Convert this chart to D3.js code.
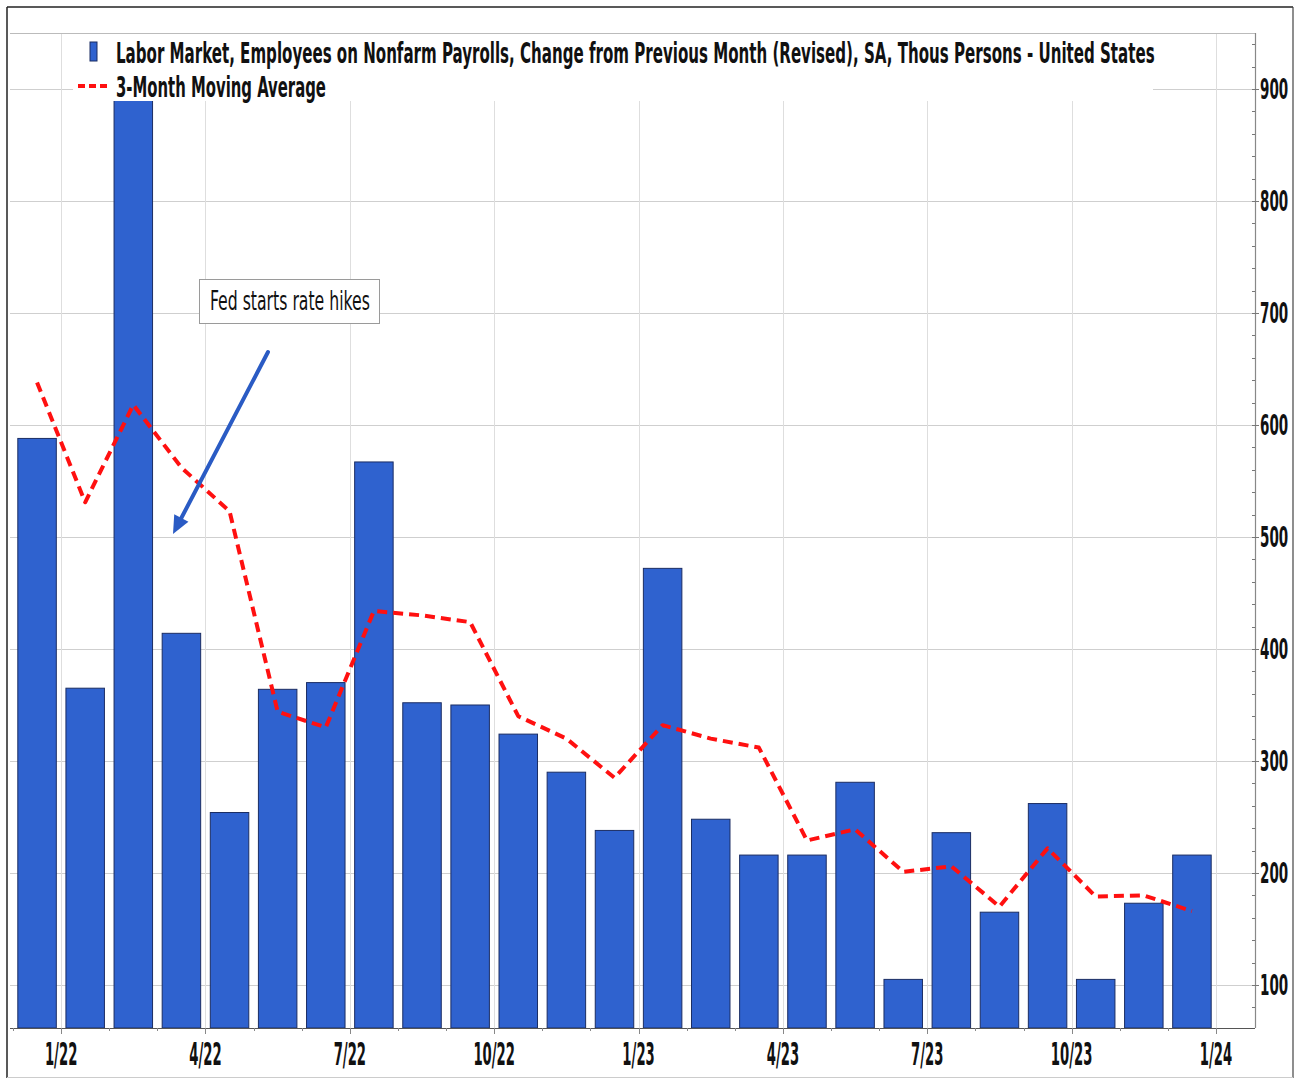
<!DOCTYPE html>
<html>
<head>
<meta charset="utf-8">
<script src="https://cdn.jsdelivr.net/npm/d3@7"></script>
<style>
  html, body { margin: 0; padding: 0; background: #fff; }
  svg { display: block; }
  .lbl { font-family: "Liberation Sans Narrow", "Arial Narrow", "DejaVu Sans Condensed", "Liberation Sans", sans-serif; font-weight: bold; fill: #111; }
</style>
</head>
<body>
<svg id="chart" width="1296" height="1080"></svg>
<script>
// Monthly change in nonfarm payrolls (thousands), Dec 2021 – Dec 2023
const months = ["12/21","1/22","2/22","3/22","4/22","5/22","6/22","7/22","8/22","9/22","10/22","11/22",
                "12/22","1/23","2/23","3/23","4/23","5/23","6/23","7/23","8/23","9/23","10/23","11/23","12/23"];
const payrolls = [588, 365, 904, 414, 254, 364, 370, 567, 352, 350, 324, 290,
                  238, 472, 248, 216, 216, 281, 105, 236, 165, 262, 105, 173, 216];
const movingAvg = [638, 531, 618, 562, 523, 344, 330, 434, 430, 424, 340, 320,
                   285, 332, 320, 312, 229, 239, 201, 206, 170, 222, 179, 180, 166];
const tickLabels = ["1/22","4/22","7/22","10/22","1/23","4/23","7/23","10/23","1/24"];
const yTicks = [100, 200, 300, 400, 500, 600, 700, 800, 900];
const barName = "Labor Market, Employees on Nonfarm Payrolls, Change from Previous Month (Revised), SA, Thous Persons - United States";
const lineName = "3-Month Moving Average";
const noteText = "Fed starts rate hikes";

const svg = d3.select("#chart");
const plot = { left: 10, right: 1255, top: 33, bottom: 1028 };

// month index -> pixel (index 0 = start of first month)
const x = d3.scaleLinear().domain([0, months.length]).range([13, 1216]);
const y = d3.scaleLinear().domain([61.6, 950]).range([plot.bottom, plot.top]);

// squeeze condensed labels horizontally to a target digit width
function squeeze(sel, digitW) {
  sel.each(function () {
    const t = d3.select(this);
    const probe = svg.append("text").attr("class", "lbl")
      .style("font-size", t.style("font-size")).text("0");
    const w0 = probe.node().getComputedTextLength();
    probe.remove();
    const sx = digitW / w0;
    const tx = +t.attr("data-x"), ty = +t.attr("data-y");
    t.attr("transform", `translate(${tx},${ty}) scale(${sx},1)`);
  });
}

// scale a left-anchored text horizontally so it spans a given width
function fitWidth(sel, tx, ty, width) {
  const w = sel.node().getComputedTextLength();
  sel.attr("transform", `translate(${tx},${ty}) scale(${width / w},1)`);
}

// outer frame
svg.append("rect").attr("x", 0).attr("y", 0).attr("width", 1296).attr("height", 1080).attr("fill", "#fff");
svg.append("line").attr("x1", 7).attr("x2", 1293).attr("y1", 7).attr("y2", 7).attr("stroke", "#222").attr("stroke-width", 1.5);
svg.append("line").attr("x1", 7).attr("x2", 7).attr("y1", 7).attr("y2", 1078).attr("stroke", "#222").attr("stroke-width", 1.5);
svg.append("line").attr("x1", 1293).attr("x2", 1293).attr("y1", 7).attr("y2", 1078).attr("stroke", "#444").attr("stroke-width", 1.2);
svg.append("line").attr("x1", 7).attr("x2", 1293).attr("y1", 1077.5).attr("y2", 1077.5).attr("stroke", "#ccc").attr("stroke-width", 1);

// gridlines
const grid = svg.append("g");
grid.selectAll("line.h").data(yTicks).join("line")
  .attr("x1", plot.left).attr("x2", plot.right)
  .attr("y1", d => Math.round(y(d)) + 0.5).attr("y2", d => Math.round(y(d)) + 0.5)
  .attr("stroke", "#cfcfcf").attr("stroke-width", 1);
grid.selectAll("line.v").data(tickLabels).join("line")
  .attr("x1", (d, i) => Math.round(x(1 + 3 * i)) + 0.5).attr("x2", (d, i) => Math.round(x(1 + 3 * i)) + 0.5)
  .attr("y1", plot.top).attr("y2", plot.bottom)
  .attr("stroke", "#dedede").attr("stroke-width", 1);
svg.append("line").attr("x1", plot.left).attr("x2", plot.right)
  .attr("y1", plot.top + 0.5).attr("y2", plot.top + 0.5).attr("stroke", "#bbb");

// bars
svg.append("g").selectAll("rect").data(payrolls).join("rect")
  .attr("x", (d, i) => x(i + 0.1))
  .attr("width", (d, i) => x(i + 0.9) - x(i + 0.1))
  .attr("y", d => y(d))
  .attr("height", d => plot.bottom - y(d))
  .attr("fill", "#2f62cf")
  .attr("stroke", "#1b2d63").attr("stroke-width", 1);

// moving average line
const line = d3.line().x((d, i) => x(i + 0.5)).y(d => y(d));
svg.append("path").datum(movingAvg)
  .attr("d", line)
  .attr("fill", "none").attr("stroke", "#ff1010").attr("stroke-width", 4)
  .attr("stroke-dasharray", "10,6").attr("stroke-linejoin", "round");

// x axis
svg.append("line").attr("x1", plot.left).attr("x2", plot.right)
  .attr("y1", plot.bottom + 0.5).attr("y2", plot.bottom + 0.5).attr("stroke", "#555").attr("stroke-width", 1.2);
svg.append("g").selectAll("line").data(d3.range(months.length + 1)).join("line")
  .attr("x1", d => Math.round(x(d)) + 0.5).attr("x2", d => Math.round(x(d)) + 0.5)
  .attr("y1", plot.bottom).attr("y2", d => plot.bottom + ((d - 1) % 3 === 0 ? 6 : 3))
  .attr("stroke", "#888");
svg.append("g").selectAll("text").data(tickLabels).join("text")
  .attr("class", "lbl").style("font-size", "32px").attr("text-anchor", "middle")
  .attr("data-x", (d, i) => x(1 + 3 * i)).attr("data-y", 1065)
  .text(d => d)
  .call(squeeze, 9.2);

// right y axis
svg.append("line").attr("x1", plot.right + 0.5).attr("x2", plot.right + 0.5)
  .attr("y1", plot.top).attr("y2", plot.bottom).attr("stroke", "#888").attr("stroke-width", 1.2);
svg.append("g").selectAll("line").data(d3.range(80, 950, 20)).join("line")
  .attr("x1", plot.right - 3).attr("x2", d => plot.right + (d % 100 === 0 ? 4 : 0))
  .attr("y1", d => Math.round(y(d)) + 0.5).attr("y2", d => Math.round(y(d)) + 0.5)
  .attr("stroke", "#777");
svg.append("g").selectAll("text").data(yTicks).join("text")
  .attr("class", "lbl").style("font-size", "28px").attr("text-anchor", "start")
  .attr("data-x", 1260).attr("data-y", d => y(d) + 10)
  .text(d => d)
  .call(squeeze, 9.4);

// legend
const lg = svg.append("g");
lg.append("rect").attr("x", 73).attr("y", 34).attr("width", 1080).attr("height", 67).attr("fill", "#fff");
lg.append("rect").attr("x", 90).attr("y", 42).attr("width", 7).attr("height", 19)
  .attr("fill", "#2f62cf").attr("stroke", "#1b2d63").attr("stroke-width", 1);
lg.append("line").attr("x1", 78).attr("x2", 108).attr("y1", 86).attr("y2", 86)
  .attr("stroke", "#ff1010").attr("stroke-width", 4).attr("stroke-dasharray", "7,4");
lg.append("text").attr("class", "lbl").style("font-size", "28px")
  .text(barName).call(fitWidth, 116, 63, 1039);
lg.append("text").attr("class", "lbl").style("font-size", "28px")
  .text(lineName).call(fitWidth, 116, 97, 210);

// annotation
const an = svg.append("g");
an.append("rect").attr("x", 199.5).attr("y", 279.5).attr("width", 180).attr("height", 44)
  .attr("fill", "#fff").attr("stroke", "#9a9a9a").attr("stroke-width", 1);
an.append("text").attr("class", "lbl").style("font-weight", "normal").style("font-size", "26px")
  .text(noteText).call(fitWidth, 210, 310, 160);
const a0 = [268, 352], a1 = [173, 534];
const dx = a1[0] - a0[0], dy = a1[1] - a0[1], len = Math.hypot(dx, dy);
const ux = dx / len, uy = dy / len, px = -uy, py = ux;
const headL = 18, headW = 8;
const base = [a1[0] - ux * headL, a1[1] - uy * headL];
an.append("line").attr("x1", a0[0]).attr("y1", a0[1]).attr("x2", base[0]).attr("y2", base[1])
  .attr("stroke", "#2a5bc4").attr("stroke-width", 4).attr("stroke-linecap", "round");
an.append("polygon")
  .attr("points", [a1, [base[0] + px * headW, base[1] + py * headW], [base[0] - px * headW, base[1] - py * headW]]
    .map(p => p.join(",")).join(" "))
  .attr("fill", "#2a5bc4");
</script>
</body>
</html>
